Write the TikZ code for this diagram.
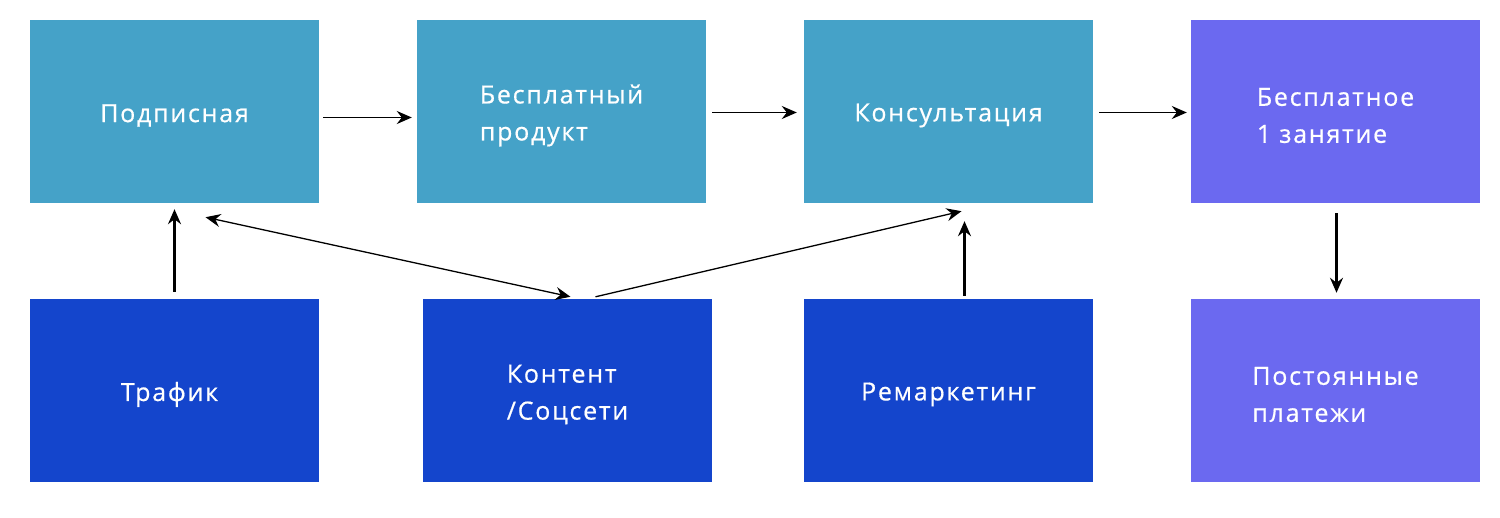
\documentclass[tikz,border=0pt]{standalone}
\usepackage{fontspec}
\setmainfont{Open Sans}[LetterSpace=7,FakeBold=0.6]
\usetikzlibrary{arrows.meta,calc}
\definecolor{teal}{HTML}{45A2C8}
\definecolor{violet}{HTML}{6B69F0}
\definecolor{royal}{HTML}{1445CC}
\tikzset{
  txt/.style={text=white, font=\fontsize{25}{37}\selectfont, align=left, inner sep=0pt, yshift=-4pt},
  plainbox/.style={rectangle, minimum width=289pt, minimum height=183pt, inner sep=0pt},
  box/.style={plainbox, label={[txt]center:#1}},
  arr/.style={-{Stealth[length=15pt,width=13pt,inset=5pt]}, line width=2.2pt},
  thin/.style={line width=1.3pt},
}
\begin{document}
\begin{tikzpicture}[x=1pt,y=-1pt]
\useasboundingbox (0,0) rectangle (1500,518);
\node[box={Подписная}, fill=teal] (b1) at (174.5,111.5) {};
\node[box={Бесплатный\\продукт}, fill=teal] (b2) at (561.5,111.5) {};
\node[box={Консультация}, fill=teal] (b3) at (948.5,111.5) {};
\node[box={Бесплатное\\1 занятие}, fill=violet] (b4) at (1335.5,111.5) {};
\node[plainbox, label={[txt,xshift=-5pt]center:Трафик}, fill=royal] (b5) at (174.5,390.5) {};
\node[box={Контент\\/Соцсети}, fill=royal] (b6) at (567.5,390.5) {};
\node[box={Ремаркетинг}, fill=royal] (b7) at (948.5,390.5) {};
\node[box={Постоянные\\платежи}, fill=violet] (b8) at (1335.5,390.5) {};

\draw[arr, line width=1.9pt] ($(b1.east)+(4,6)$) -- ($(b2.west)+(-5,6)$);
\draw[arr, line width=1.9pt] ($(b2.east)+(6,1)$) -- ($(b3.west)+(-7,1)$);
\draw[arr, line width=1.9pt] ($(b3.east)+(6,1)$) -- ($(b4.west)+(-4,1)$);
\draw[arr] ($(b4.south)+(1,10)$) -- ($(b8.north)+(1,-6)$);
\draw[arr] ($(b5.north)+(0,-7)$) -- ($(b1.south)+(0,6)$);
\draw[arr] ($(b7.north)+(16,-3)$) -- ($(b3.south)+(16,18)$);
\draw[thin, {Stealth[length=15pt,width=13pt,inset=5pt]}-{Stealth[length=15pt,width=13pt,inset=5pt]}] ($(b1.south)+(31,14)$) -- ($(b6.north)+(3,-2)$);
\draw[arr, thin] ($(b6.north)+(28,-2)$) -- ($(b3.south)+(13,8)$);
\end{tikzpicture}
\end{document}
